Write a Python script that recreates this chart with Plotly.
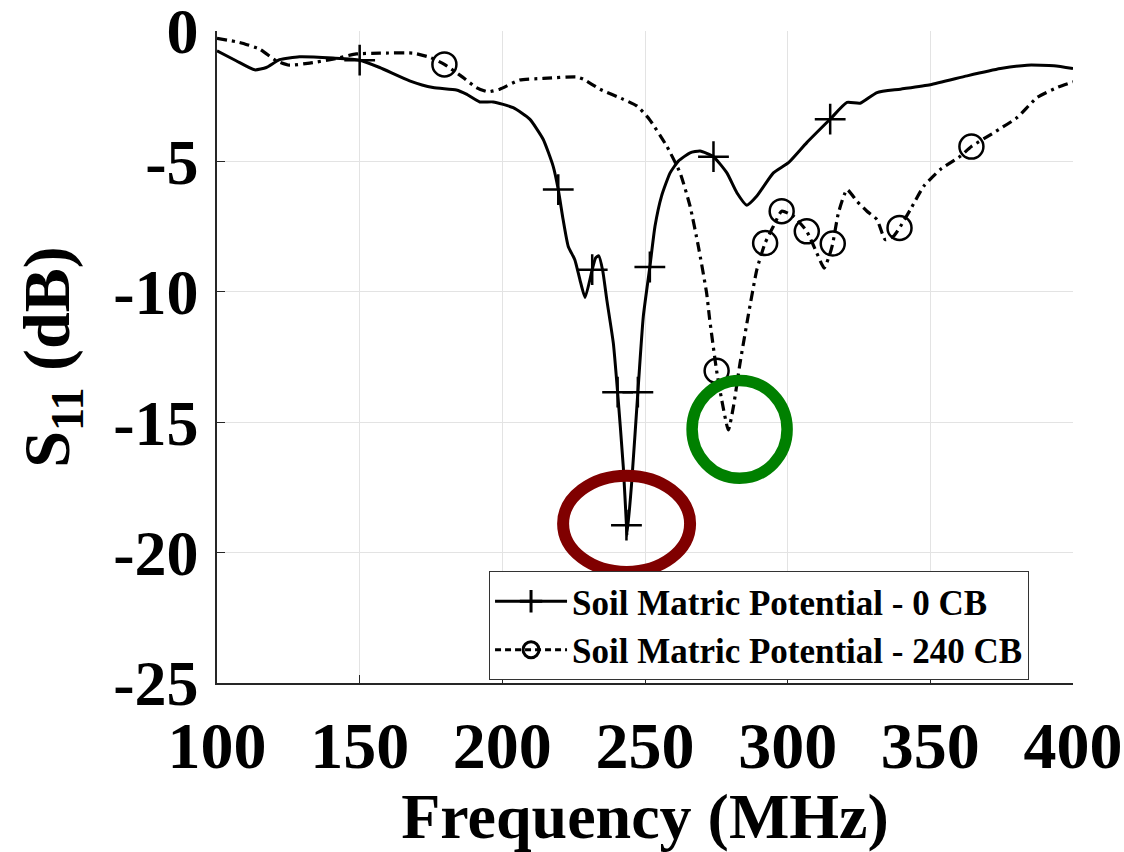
import plotly.graph_objects as go

# S11 sweep, soil matric potential 0 CB
freq_0cb = [100, 106.7, 113.2, 117.3, 121.9, 128.9, 140.6, 150, 157, 167.5, 175.7, 183.9,
            187.4, 192.1, 196.8, 203.8, 209.6, 214.3, 217.8, 219.6, 221.3, 223.1, 225.4,
            227.2, 229.0, 231.5, 232.7, 233.8, 235.2, 236.6, 238.9, 240.4, 242.4, 243.5,
            243.7, 245.3, 247.5, 249.4, 251.7, 253.5, 255.8, 258.8, 261.7, 265.8, 269.3,
            274, 278.7, 282.2, 285.7, 289.2, 295, 300.3, 306.7, 314.9, 320.8, 325.4,
            331.3, 339.5, 350, 362.9, 374.6, 383.9, 393.3, 400]
s11_0cb = [-0.76, -1.14, -1.49, -1.40, -1.10, -0.99, -1.04, -1.12, -1.40, -1.91, -2.17, -2.26,
           -2.42, -2.72, -2.72, -2.94, -3.38, -4.15, -5.18, -6.08, -7.23, -8.26, -8.77,
           -9.54, -10.22, -9.15, -8.70, -8.62, -9.20, -10.30, -11.97, -13.85, -16.72, -18.95,
           -19.35, -17.36, -13.85, -10.95, -9.05, -7.49, -6.33, -5.44, -4.99, -4.67, -4.60,
           -4.82, -5.44, -6.20, -6.68, -6.33, -5.44, -5.05, -4.28, -3.38, -2.74, -2.77,
           -2.36, -2.23, -2.06, -1.72, -1.44, -1.31, -1.33, -1.44]
mark_freq_0cb = [150, 219.6, 231.5, 240.4, 243.5, 247.5, 251.7, 274, 314.9]
mark_s11_0cb = [-1.12, -6.08, -9.15, -13.85, -18.95, -13.85, -9.05, -4.82, -3.38]

# S11 sweep, soil matric potential 240 CB
freq_240cb = [100, 107.9, 114.9, 120.8, 125.4, 132.5, 140.6, 148.8, 157, 168.7, 174.6, 179.7,
              186.2, 190.9, 195, 199.1, 206.1, 214.3, 226, 228.4, 234.2, 242.4, 247.1, 251.5,
              257.6, 262.3, 265.8, 268.7, 271.6, 272.6, 275.1, 276.9, 279.2, 281, 283.3,
              286.2, 289.2, 292.1, 295, 297.9, 302, 306.7, 310.2, 312.8, 314.9, 315.8, 317.8,
              320.8, 324.3, 327.8, 331.3, 334.2, 337.1, 339.2, 343, 347.7, 353.5, 360.5,
              364.4, 372.2, 380.4, 387.4, 394.4, 400]
s11_240cb = [-0.28, -0.44, -0.69, -1.14, -1.31, -1.23, -1.08, -0.88, -0.85, -0.85, -1.01, -1.28,
             -1.78, -2.17, -2.33, -2.23, -1.88, -1.82, -1.76, -1.85, -2.23, -2.62, -2.87, -3.38,
             -4.41, -5.44, -6.72, -8.26, -10.05, -11.0, -13.03, -14.15, -15.3, -14.4, -12.74,
             -10.9, -9.15, -8.13, -7.49, -6.91, -7.10, -7.68, -8.51, -9.09, -8.51, -8.15, -6.97,
             -6.08, -6.53, -6.91, -7.23, -8.00, -7.87, -7.55, -6.85, -5.95, -5.31, -4.80,
             -4.43, -3.90, -3.32, -2.55, -2.17, -1.95]
mark_freq_240cb = [179.7, 275.1, 292.1, 297.9, 306.7, 315.8, 339.2, 364.4]
mark_s11_240cb = [-1.28, -13.03, -8.13, -6.91, -7.68, -8.15, -7.55, -4.43]

series_names = ["Soil Matric Potential - 0 CB", "Soil Matric Potential - 240 CB"]

# highlighted resonance regions: (f0, f1, s0, s1)
resonance_0cb = (221.3, 265.8, -20.74, -17.05)
resonance_240cb = (266.5, 299.8, -17.15, -13.4)

x_ticks = [100, 150, 200, 250, 300, 350, 400]
y_ticks = [-25, -20, -15, -10, -5, 0]
y_tick_labels = ["-25", "-20", "-15", "-10", "-5", "0"]

FONT = "Liberation Serif"
DASHDOT = "10px,5px,3px,5px"

fig = go.Figure()

# curves
fig.add_trace(go.Scatter(x=freq_0cb, y=s11_0cb, mode="lines",
                         line=dict(color="black", width=3, shape="spline", smoothing=0.5),
                         showlegend=False, hoverinfo="skip"))
fig.add_trace(go.Scatter(x=freq_240cb, y=s11_240cb, mode="lines",
                         line=dict(color="black", width=3.2, dash=DASHDOT, shape="spline", smoothing=0.5),
                         showlegend=False, hoverinfo="skip"))

# markers
fig.add_trace(go.Scatter(x=mark_freq_0cb, y=mark_s11_0cb, mode="markers",
                         marker=dict(symbol="cross-thin-open", size=22, color="black",
                                     line=dict(color="black", width=2.5)),
                         showlegend=False))
fig.add_trace(go.Scatter(x=mark_freq_240cb, y=mark_s11_240cb, mode="markers",
                         marker=dict(symbol="circle-open", size=24, color="black",
                                     line=dict(color="black", width=2.5)),
                         showlegend=False))

# legend entries
fig.add_trace(go.Scatter(x=[None], y=[None], mode="lines+markers", name=series_names[0],
                         line=dict(color="black", width=3),
                         marker=dict(symbol="cross-thin-open", size=22,
                                     line=dict(color="black", width=3))))
fig.add_trace(go.Scatter(x=[None], y=[None], mode="lines+markers", name=series_names[1],
                         line=dict(color="black", width=3, dash="6px,4px"),
                         marker=dict(symbol="circle-open", size=22, color="black",
                                     line=dict(color="black", width=3))))

for (f0, f1, s0, s1), col, w in [(resonance_0cb, "#800000", 12), (resonance_240cb, "#008000", 11.5)]:
    fig.add_shape(type="circle", xref="x", yref="y", x0=f0, x1=f1, y0=s0, y1=s1,
                  line=dict(color=col, width=w), layer="above")

axis_common = dict(showline=True, linecolor="#262626", linewidth=1.5, ticks="inside",
                   ticklen=8, tickwidth=1, tickcolor="#262626", showgrid=True,
                   gridcolor="#e3e3e3", gridwidth=1, zeroline=False, mirror=False,
                   ticklabeloverflow="allow", automargin=False)

fig.update_layout(
    width=1124, height=852,
    margin=dict(l=217, r=51, t=31, b=169, pad=0, autoexpand=False),
    paper_bgcolor="white", plot_bgcolor="white",
    font=dict(family=FONT, color="black"),
    xaxis=dict(range=[100, 400], tickvals=x_ticks,
               tickfont=dict(family=FONT, size=66, weight="bold", color="black"),
               ticklabelstandoff=4,
               title=dict(text="Frequency (MHz)", standoff=16,
                          font=dict(family=FONT, size=64, weight="bold", color="black")),
               **axis_common),
    yaxis=dict(range=[-25, 0], tickvals=y_ticks, ticktext=y_tick_labels,
               tickfont=dict(family=FONT, size=64, weight="bold", color="black"),
               ticklabelstandoff=4,
               title=dict(text="S<sub>11</sub> (dB)", standoff=22,
                          font=dict(family=FONT, size=66, weight="bold", color="black")),
               **axis_common),
    legend=dict(x=0.3178, y=0.1718, xanchor="left", yanchor="top",
                bgcolor="white", bordercolor="#333333", borderwidth=1,
                font=dict(family=FONT, size=35, weight="bold", color="black"),
                itemwidth=72, tracegroupgap=0),
    showlegend=True,
)

fig.write_html("out.html")
